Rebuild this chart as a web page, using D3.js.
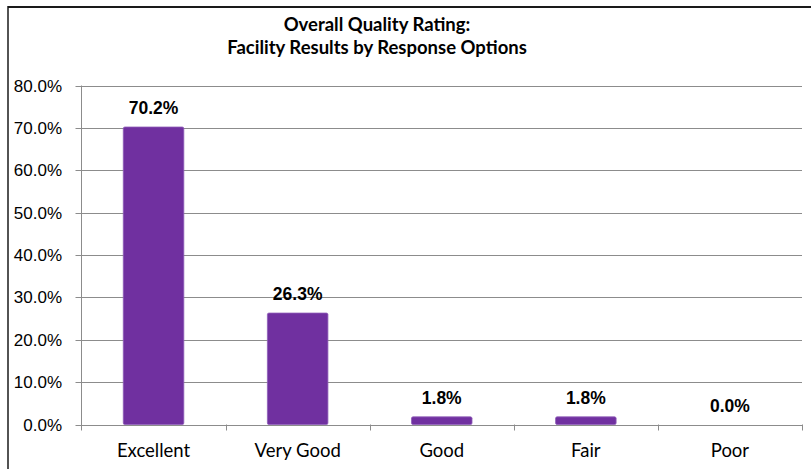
<!DOCTYPE html>
<html lang="en">
<head>
<meta charset="UTF-8">
<title>Overall Quality Rating</title>
<style>
  body { margin: 0; background: #fff; }
</style>
</head>
<body>
<script src="https://d3js.org/d3.v7.min.js"></script>
<script>
  // chart data
  var categories = ["Excellent", "Very Good", "Good", "Fair", "Poor"];
  var values = [70.2, 26.3, 1.8, 1.8, 0.0];
  var yTicks = [0, 10, 20, 30, 40, 50, 60, 70, 80];
  var titleLines = ["Overall Quality Rating:", "Facility Results by Response Options"];

  const width = 811;
  const height = 469;
  const plotLeft = 81.5, plotRight = 802, plotTop = 85.5, plotBottom = 424.5;

  const svg = d3.select("body")
    .append("svg")
    .attr("width", width)
    .attr("height", height);

  // outer frame (top and left edges visible)
  svg.append("line").attr("x1", 8).attr("x2", width).attr("y1", 7).attr("y2", 7)
    .attr("stroke", "#1a1a1a").attr("stroke-width", 2);
  svg.append("line").attr("x1", 8).attr("x2", 8).attr("y1", 6).attr("y2", height)
    .attr("stroke", "#1a1a1a").attr("stroke-width", 1.5);

  // title
  svg.append("g").selectAll("text")
    .data(titleLines)
    .enter().append("text")
    .attr("x", 377)
    .attr("y", function(d, i) { return 31 + i * 22.5; })
    .attr("text-anchor", "middle")
    .style("font-family", "Lato, sans-serif")
    .style("font-weight", "bold")
    .style("font-size", "18.5px")
    .text(function(d) { return d; });

  var x = d3.scaleBand().domain(categories).range([plotLeft, plotRight]).paddingInner(0.58).paddingOuter(0.29);
  var xBand = d3.scaleBand().domain(categories).range([plotLeft, plotRight]);
  var y = d3.scaleLinear().domain([0, 80]).range([plotBottom, plotTop]);

  // gridlines
  svg.append("g").selectAll("line")
    .data(yTicks)
    .enter().append("line")
    .attr("x1", plotLeft - 6).attr("x2", plotRight)
    .attr("y1", function(d) { return Math.round(y(d)) + 0.5; })
    .attr("y2", function(d) { return Math.round(y(d)) + 0.5; })
    .attr("stroke", "#8c8c8c").attr("stroke-width", 1);

  // y axis line
  svg.append("line").attr("x1", plotLeft).attr("x2", plotLeft).attr("y1", plotTop).attr("y2", plotBottom + 6)
    .attr("stroke", "#8c8c8c");

  // category tick marks
  svg.append("g").selectAll("line")
    .data(categories)
    .enter().append("line")
    .attr("x1", function(d) { return Math.round(xBand(d) + xBand.bandwidth()) + 0.5; })
    .attr("x2", function(d) { return Math.round(xBand(d) + xBand.bandwidth()) + 0.5; })
    .attr("y1", plotBottom).attr("y2", plotBottom + 6)
    .attr("stroke", "#8c8c8c");

  // y tick labels
  svg.append("g").selectAll("text")
    .data(yTicks)
    .enter().append("text")
    .attr("x", 62)
    .attr("y", function(d) { return y(d); })
    .attr("dy", "0.36em")
    .attr("text-anchor", "end")
    .style("font-family", "'Liberation Sans', Arial, sans-serif")
    .style("font-size", "17px")
    .text(function(d) { return d3.format(".1f")(d) + "%"; });

  // bars
  svg.append("g").selectAll("rect")
    .data(values)
    .enter().append("rect")
    .attr("x", function(d, i) { return x(categories[i]); })
    .attr("y", function(d) { return y(d); })
    .attr("width", x.bandwidth())
    .attr("height", function(d) { return plotBottom - y(d); })
    .attr("rx", 1.5)
    .attr("fill", "#7030a0")
    .attr("stroke", "#8e5cb8")
    .attr("stroke-width", 0.8);

  // value labels
  svg.append("g").selectAll("text")
    .data(values)
    .enter().append("text")
    .attr("x", function(d, i) { return x(categories[i]) + x.bandwidth() / 2; })
    .attr("y", function(d) { return y(d) - 13; })
    .attr("text-anchor", "middle")
    .style("font-family", "'Liberation Sans', Arial, sans-serif")
    .style("font-weight", "bold")
    .style("font-size", "17.5px")
    .text(function(d) { return d3.format(".1f")(d) + "%"; });

  // category labels
  svg.append("g").selectAll("text")
    .data(categories)
    .enter().append("text")
    .attr("x", function(d) { return xBand(d) + xBand.bandwidth() / 2; })
    .attr("y", 457)
    .attr("text-anchor", "middle")
    .style("font-family", "Lato, sans-serif")
    .style("font-size", "18.5px")
    .text(function(d) { return d; });
</script>
</body>
</html>
